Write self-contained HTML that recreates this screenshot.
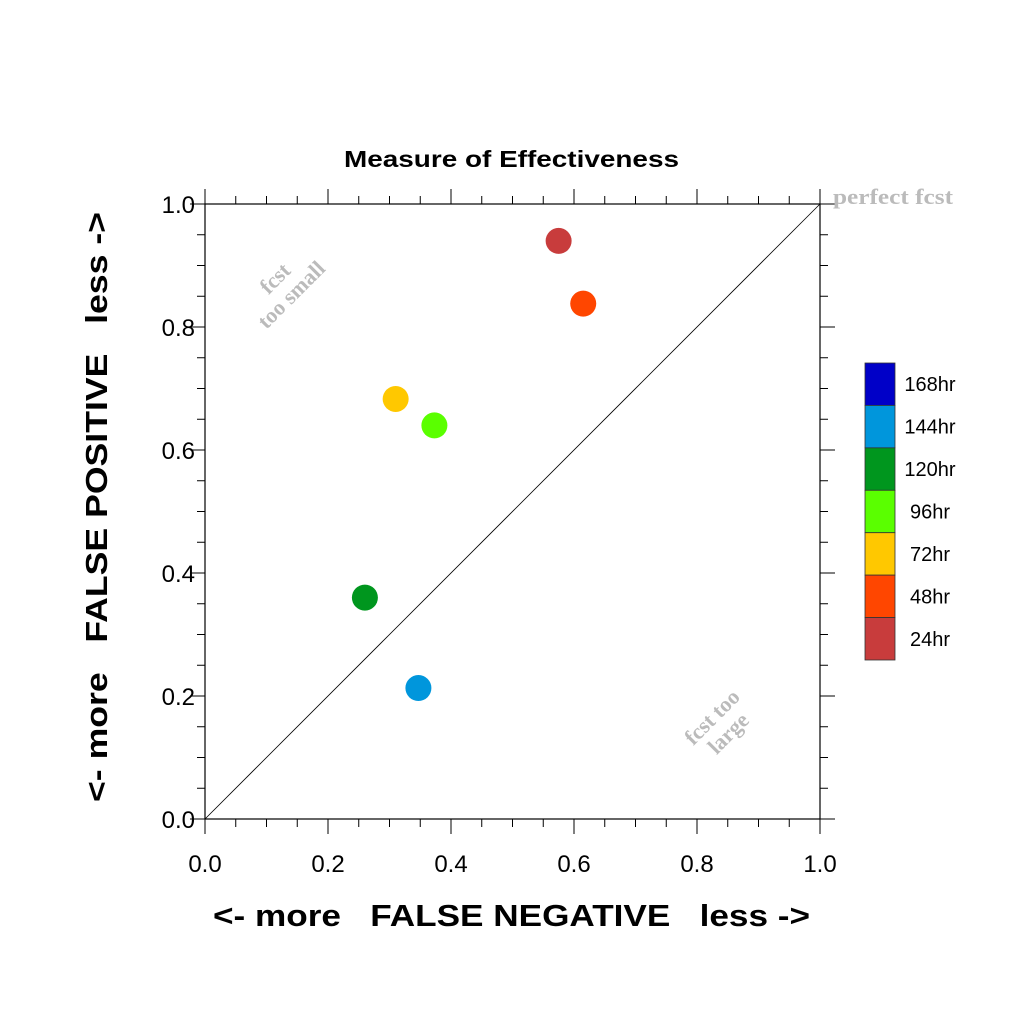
<!DOCTYPE html>
<html><head><meta charset="utf-8"><style>
body{margin:0;background:#fff}
svg{display:block;font-family:"Liberation Sans",sans-serif}
</style></head><body>
<svg id="chart" width="1024" height="1024" viewBox="0 0 1024 1024">
<rect width="1024" height="1024" fill="#fff"/>
<text x="344" y="167" font-size="23" font-weight="bold" textLength="335" lengthAdjust="spacingAndGlyphs">Measure of Effectiveness</text>
<g id="axes"></g>
<line x1="205" y1="819" x2="820" y2="204" stroke="#000" stroke-width="0.8"/>
<text x="833" y="204" font-family="Liberation Serif,serif" font-size="22" font-weight="bold" fill="#bbb" textLength="120" lengthAdjust="spacingAndGlyphs">perfect fcst</text>
<g transform="translate(290,285) rotate(-45)" fill="#bbb" font-family="Liberation Serif,serif" font-size="22" font-weight="bold" text-anchor="middle">
<text x="-6" y="-8">fcst</text><text x="-6" y="15">too small</text></g>
<g transform="translate(720,725) rotate(-45)" fill="#bbb" font-family="Liberation Serif,serif" font-size="22" font-weight="bold" text-anchor="middle">
<text x="0" y="-4">fcst too</text><text x="0" y="19">large</text></g>
<text x="213" y="926" font-size="31" font-weight="bold" textLength="597" lengthAdjust="spacingAndGlyphs" xml:space="preserve">&lt;- more   FALSE NEGATIVE   less -&gt;</text>
<text transform="translate(107,802) rotate(-90)" font-size="31" font-weight="bold" textLength="590" lengthAdjust="spacingAndGlyphs" xml:space="preserve">&lt;- more   FALSE POSITIVE   less -&gt;</text>
<g id="points"></g>
<g id="legend"></g>
</svg>
<script>
const labels = ["24hr","48hr","72hr","96hr","120hr","144hr"];
const xVals = [0.575,0.615,0.310,0.373,0.260,0.347];
const yVals = [0.940,0.838,0.683,0.640,0.360,0.213];
const legendLabels = ["168hr","144hr","120hr","96hr","72hr","48hr","24hr"];
const legendColors = ["#0000c8","#0096dc","#00961e","#5aff00","#ffc800","#ff4600","#c83c3c"];
const pointColors = ["#c83c3c","#ff4600","#ffc800","#5aff00","#00961e","#0096dc"];
const tickVals = [0,0.2,0.4,0.6,0.8,1.0];
const tickLabels = ["0.0","0.2","0.4","0.6","0.8","1.0"];
const NS="http://www.w3.org/2000/svg";
const X0=205,X1=820,Y0=819,Y1=204;
const sx=v=>X0+(X1-X0)*v, sy=v=>Y0-(Y0-Y1)*v;
function mk(t,a,p){const e=document.createElementNS(NS,t);for(const k in a)e.setAttribute(k,a[k]);p.appendChild(e);return e;}
const ax=document.getElementById('axes');
let f=mk('rect',{x:X0,y:Y1,width:X1-X0,height:Y0-Y1,fill:'none',stroke:'#000','stroke-width':1.2},ax);


for(let i=0;i<=20;i++){
  const v=i/20, major=(i%4===0), L=major?15:8;
  const x=sx(v), y=sy(v);
  const st={stroke:'#000','stroke-width':1};
  mk('line',Object.assign({x1:x,y1:Y0,x2:x,y2:Y0+L},st),ax);
  mk('line',Object.assign({x1:x,y1:Y1,x2:x,y2:Y1-L},st),ax);
  mk('line',Object.assign({x1:X0,y1:y,x2:X0-L,y2:y},st),ax);
  mk('line',Object.assign({x1:X1,y1:y,x2:X1+L,y2:y},st),ax);
}
tickVals.forEach((v,i)=>{
  let t=mk('text',{x:sx(v),y:Y0+53,'font-size':24,'text-anchor':'middle'},ax);
  t.textContent=tickLabels[i];
  
  
  let u=mk('text',{x:X0-10,y:sy(v)+9,'font-size':24,'text-anchor':'end'},ax);
  u.textContent=tickLabels[i];
  
  
});
const pg=document.getElementById('points');
labels.forEach((l,i)=>{
  let c=mk('circle',{cx:sx(xVals[i]),cy:sy(yVals[i]),r:13,fill:pointColors[i]},pg);
  
  
});
const lg=document.getElementById('legend');
const bh=(660-363)/legendLabels.length;
legendLabels.forEach((l,i)=>{
  let r=mk('rect',{x:865,y:363+i*bh,width:30,height:bh,fill:legendColors[i],stroke:'#333','stroke-width':0.8},lg);
  
  
  let t=mk('text',{x:930,y:363+i*bh+bh/2+7,'font-size':20,'text-anchor':'middle'},lg);
  t.textContent=l;
  
  
});
</script>
</body></html>
